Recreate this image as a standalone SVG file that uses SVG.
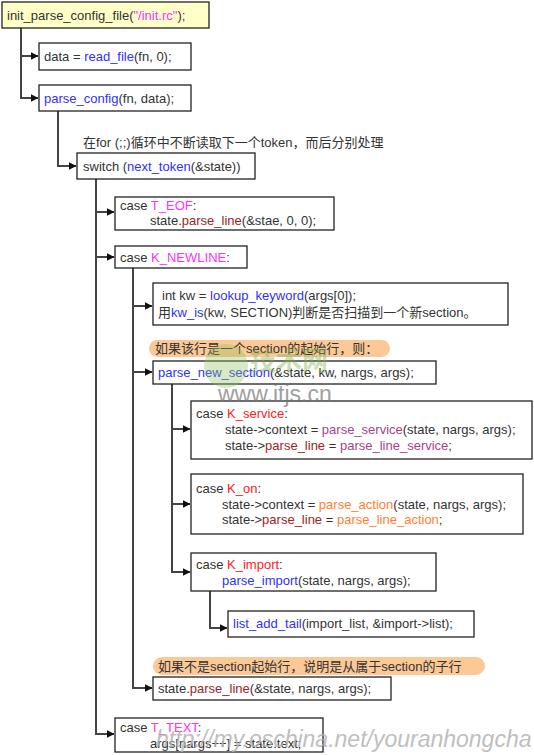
<svg xmlns="http://www.w3.org/2000/svg" width="534" height="755" viewBox="0 0 534 755">
<defs>
<marker id="arr" viewBox="0 0 8 8" refX="7.5" refY="4" markerWidth="8" markerHeight="8" markerUnits="userSpaceOnUse" orient="auto">
<path d="M0,0 L8,4 L0,8 Z" fill="#111"/>
</marker>
</defs>
<style>
text{font-family:"Liberation Sans",Arial,"Noto Sans CJK SC",sans-serif;font-size:13px;fill:#333;}
.box{fill:#fff;stroke:#222;stroke-width:1.3;}
.top{fill:#ffffc8;}
.pill{fill:#fbc896;stroke:none;}
.c path{fill:none;stroke:#444;stroke-width:2;}
.c path.a{marker-end:url(#arr);}
.fn{fill:#3030ff;}
.mg{fill:#ff30ff;}
.dr{fill:#a02424;}
.rd{fill:#ff2020;}
.pu{fill:#a8438a;}
.or{fill:#ff8030;}
</style>

<g class="c" id="connectors">
<path d="M21,28 V98 H38" class="a"/>
<path d="M21,56 H38" class="a"/>
<path d="M58,111 V166 H76" class="a"/>
<path d="M96,179 V734 H114" class="a"/>
<path d="M96,212 H114" class="a"/>
<path d="M96,257 H114" class="a"/>
<path d="M133,268 V688 H152" class="a"/>
<path d="M133,306 H152" class="a"/>
<path d="M133,372 H152" class="a"/>
<path d="M172,384 V572 H190" class="a"/>
<path d="M172,429 H190" class="a"/>
<path d="M172,504 H190" class="a"/>
<path d="M210,591 V628 H227" class="a"/>
</g>

<g id="n-init">
<rect class="box top" x="2" y="2" width="207" height="26"/>
<text x="7" y="19.5">init_parse_config_file(<tspan class="mg">"/init.rc"</tspan>);</text>
</g>
<g id="n-readfile">
<rect class="box" x="39" y="43" width="152" height="27"/>
<text x="44" y="60.5">data = <tspan class="fn">read_file</tspan>(fn, 0);</text>
</g>
<g id="n-parseconfig">
<rect class="box" x="39" y="85" width="152" height="26"/>
<text x="44" y="102.5"><tspan class="fn">parse_config</tspan>(fn, data);</text>
</g>
<g id="note-for">
<text x="83" y="146.5">在for (;;)循环中不断读取下一个token，而后分别处理</text>
</g>
<g id="n-switch">
<rect class="box" x="77" y="153" width="178" height="26"/>
<text x="83" y="170.5">switch (<tspan class="fn">next_token</tspan>(&amp;state))</text>
</g>
<g id="n-teof">
<rect class="box" x="115" y="197" width="219" height="33"/>
<text x="120" y="209.5">case <tspan class="mg">T_EOF</tspan>:</text>
<text x="150" y="224.5">state.<tspan class="dr">parse_line</tspan>(&amp;stae, 0, 0);</text>
</g>
<g id="n-newline">
<rect class="box" x="115" y="246" width="132" height="22"/>
<text x="120" y="261.5">case <tspan class="mg">K_NEWLINE</tspan>:</text>
</g>
<g id="n-lookup">
<rect class="box" x="153" y="283" width="355" height="42"/>
<text x="162" y="299.5">int kw = <tspan class="fn">lookup_keyword</tspan>(args[0]);</text>
<text x="158" y="316.5">用<tspan class="fn">kw_is</tspan>(kw, SECTION)判断是否扫描到一个新section。</text>
</g>
<g id="note-section">
<rect class="pill" x="149" y="340" width="241" height="17" rx="8.5"/>
<text x="155" y="353">如果该行是一个section的起始行，则：</text>
</g>
<g id="n-newsection">
<rect class="box" x="153" y="361" width="283" height="23"/>
<text x="158" y="377"><tspan class="fn">parse_new_section</tspan>(&amp;state, kw, nargs, args);</text>
</g>
<g id="n-service">
<rect class="box" x="191" y="401" width="341" height="58"/>
<text x="196" y="417.5">case <tspan class="rd">K_service</tspan>:</text>
<text x="225" y="433.5">state-&gt;context = <tspan class="pu">parse_service</tspan>(state, nargs, args);</text>
<text x="225" y="449.5">state-&gt;<tspan class="dr">parse_line</tspan> = <tspan class="pu">parse_line_service</tspan>;</text>
</g>
<g id="n-on">
<rect class="box" x="191" y="474" width="332" height="60"/>
<text x="196" y="492.5">case <tspan class="rd">K_on</tspan>:</text>
<text x="222" y="508.5">state-&gt;context = <tspan class="or">parse_action</tspan>(state, nargs, args);</text>
<text x="222" y="523.5">state-&gt;<tspan class="dr">parse_line</tspan> = <tspan class="or">parse_line_action</tspan>;</text>
</g>
<g id="n-import">
<rect class="box" x="191" y="553" width="245" height="38"/>
<text x="196" y="568.5">case <tspan class="rd">K_import</tspan>:</text>
<text x="222" y="584.5"><tspan class="fn">parse_import</tspan>(state, nargs, args);</text>
</g>
<g id="n-listadd">
<rect class="box" x="228" y="611" width="246" height="26"/>
<text x="233" y="628"><tspan class="fn">list_add_tail</tspan>(import_list, &amp;import-&gt;list);</text>
</g>
<g id="note-sub">
<rect class="pill" x="153" y="657" width="332" height="18" rx="9"/>
<text x="158" y="670.5">如果不是section起始行，说明是从属于section的子行</text>
</g>
<g id="n-parseline">
<rect class="box" x="153" y="677" width="238" height="23"/>
<text x="158" y="692.5">state.<tspan class="dr">parse_line</tspan>(&amp;state, nargs, args);</text>
</g>
<g id="n-ttext">
<rect class="box" x="115" y="718" width="208" height="34"/>
<text x="120" y="731.5">case <tspan class="mg">T_TEXT</tspan>:</text>
<text x="150" y="747.5">args[nargs++] = state.text;</text>
</g>

<g id="watermarks">
<circle cx="226" cy="366" r="22" fill="#8fbf5a" opacity="0.35"/>
<text x="250" y="370" style="font-size:26px;fill:#7fb04a;opacity:0.4;font-weight:bold">技术网</text>
<text x="218" y="402" style="font-size:23px;fill:#777;opacity:0.7">www.itjs.cn</text>
<text x="156" y="747" style="font-size:23px;font-style:italic;fill:#b4b4b4;opacity:0.85">http://my.oschina.net/youranhongcha</text>
</g>
</svg>
